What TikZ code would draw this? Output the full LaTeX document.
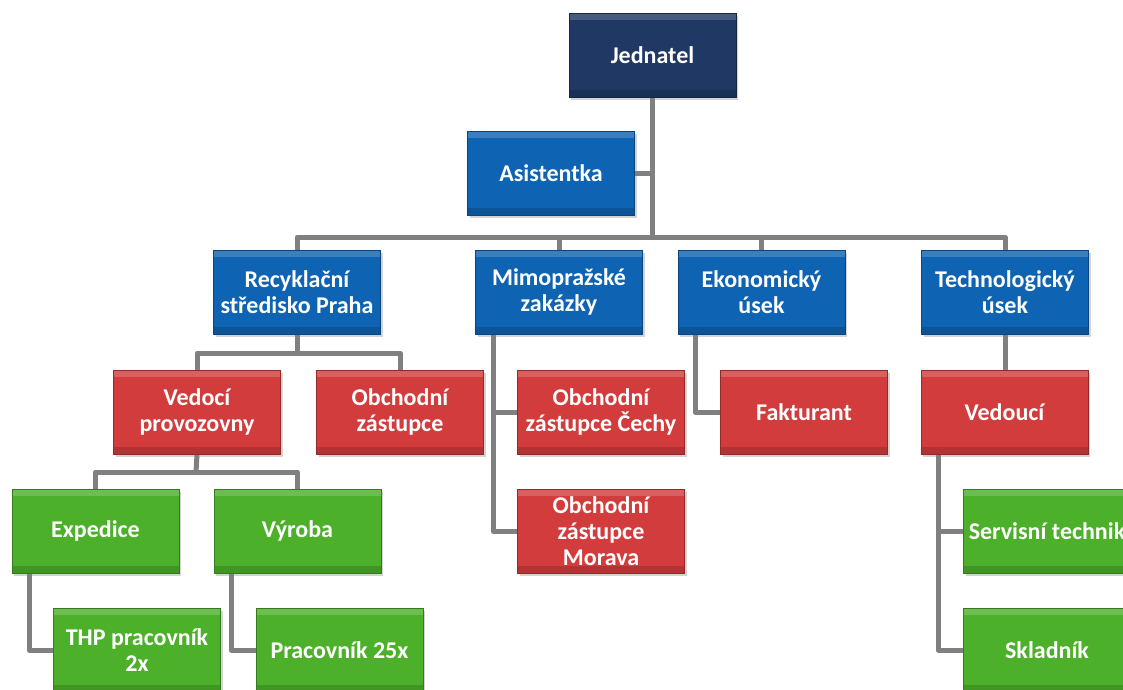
\documentclass[tikz,border=0pt]{standalone}
\usepackage{fontspec}
\setmainfont{Carlito}
\usetikzlibrary{shadows,backgrounds}
\definecolor{navybox}{HTML}{1F3864}
\definecolor{bluebox}{HTML}{0E63B3}
\definecolor{redbox}{HTML}{D23C3C}
\definecolor{greenbox}{HTML}{4DB02A}
\definecolor{linkgray}{HTML}{808080}
\tikzset{
  box/.style={draw=#1!70!black, fill=#1, line width=0.8pt,
    minimum width=167pt, minimum height=84pt, inner sep=2pt,
    text=white, align=center, font=\fontsize{24}{26}\selectfont\bfseries,
    drop shadow={shadow xshift=2pt, shadow yshift=-3pt, opacity=0.35},
    path picture={
      \fill[white, opacity=0.18] (path picture bounding box.north west)
        rectangle ([yshift=-7pt]path picture bounding box.north east);
      \fill[black, opacity=0.15] (path picture bounding box.south west)
        rectangle ([yshift=7pt]path picture bounding box.south east);
    }},
  link/.style={draw=linkgray, line width=5pt, line join=round}
}
\begin{document}
\begin{tikzpicture}[x=1pt,y=-1pt]
\useasboundingbox (0,0) rectangle (1123,689);
\clip (0,0) rectangle (1123,689);
% top
\node[box=navybox] (jed) at (652.5,55) {Jednatel};
\node[box=bluebox] (asi) at (551,173) {Asistentka};
% second row
\node[box=bluebox] (rec) at (297,292) {Recyklační\\středisko Praha};
\node[box=bluebox] (mimo) at (559,292) {Mimopražské\\zakázky};
\node[box=bluebox] (eko) at (761.5,292) {Ekonomický\\úsek};
\node[box=bluebox] (tech) at (1005,292) {Technologický\\úsek};
% third row
\node[box=redbox] (vedp) at (197,412) {Vedocí\\provozovny};
\node[box=redbox] (obz) at (400,412) {Obchodní\\zástupce};
\node[box=redbox] (cechy) at (601,412) {Obchodní\\zástupce Čechy};
\node[box=redbox] (fakt) at (804,412) {Fakturant};
\node[box=redbox] (ved) at (1004.5,412) {Vedoucí};
\node[box=redbox] (morava) at (601,531) {Obchodní\\zástupce\\Morava};
% green
\node[box=greenbox] (exp) at (95.5,531) {Expedice};
\node[box=greenbox] (vyr) at (297.5,531) {Výroba};
\node[box=greenbox] (thp) at (137,650) {THP pracovník\\2x};
\node[box=greenbox] (prac) at (339.5,650) {Pracovník 25x};
\node[box=greenbox] (serv) at (1047,531) {Servisní technik};
\node[box=greenbox] (sklad) at (1047,650) {Skladník};
% connectors
\coordinate (bus0) at (652.5,237);
\coordinate (bus1) at (297,353);
\coordinate (bus2) at (196,472);
\coordinate (mimoL) at (493,334);
\coordinate (ekoL) at (695,334);
\coordinate (vedL) at (938,454);
\coordinate (expL) at (29,573);
\coordinate (vyrL) at (231,573);
\begin{scope}[on background layer]
\draw[link] (jed.south) -- (bus0);
\draw[link] (asi.east) -- (asi.east -| jed.south);
\draw[link] (rec.north) |- (bus0) -| (tech.north);
\draw[link] (mimo.north) -- (mimo.north |- bus0);
\draw[link] (eko.north) -- (eko.north |- bus0);
\draw[link] (rec.south) -- (bus1);
\draw[link] (vedp.north) |- (bus1) -| (obz.north);
\draw[link] (mimoL) |- (cechy.west);
\draw[link] (mimoL) |- (morava.west);
\draw[link] (ekoL) |- (fakt.west);
\draw[link] (tech.south) -- (ved.north -| tech.south);
\draw[link] (vedL) |- (serv.west);
\draw[link] (vedL) |- (sklad.west);
\draw[link] (vedp.south) -- (bus2);
\draw[link] (exp.north) |- (bus2) -| (vyr.north);
\draw[link] (expL) |- (thp.west);
\draw[link] (vyrL) |- (prac.west);
\end{scope}
\end{tikzpicture}
\end{document}
